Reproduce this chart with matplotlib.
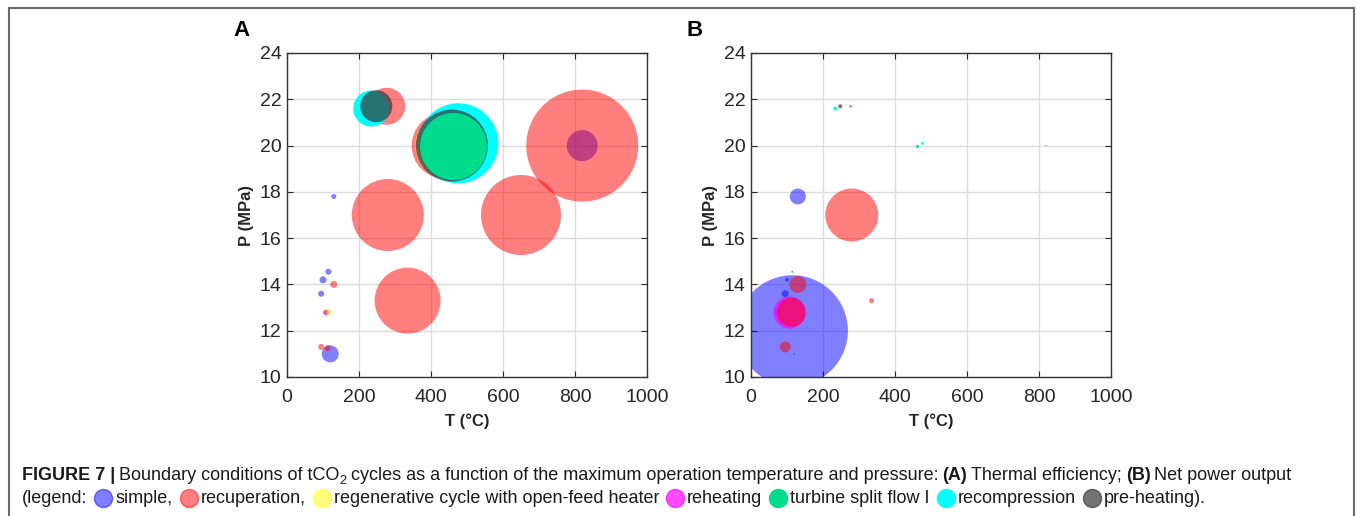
import matplotlib
matplotlib.use("Agg")
import matplotlib.pyplot as plt
from matplotlib.lines import Line2D

W, H = 1357, 516
DPI = 100

# tCO2 cycles: max temperature (°C), max pressure (MPa),
# bubble diameter (px) for (A) thermal efficiency and (B) net power output
simple_T = [130, 115, 100, 95, 120, 820, 115]
simple_P = [17.8, 14.55, 14.2, 13.6, 11.0, 20.0, 12.0]
simple_A = [5, 6, 7, 6, 17, 31, 0]
simple_B = [16, 2, 4, 7, 1.5, 1, 111]

recup_T = [820, 650, 280, 335, 438, 277, 130, 95, 113, 112]
recup_P = [20.0, 17.0, 17.0, 13.3, 20.0, 21.7, 14.0, 11.3, 11.25, 12.8]
recup_A = [112, 80, 72, 66, 66, 37, 7, 6, 6, 5]
recup_B = [1, 0.5, 53, 5, 0, 3, 17, 11, 0, 29]

regen_T = [114, 448]
regen_P = [12.8, 20.0]
regen_A = [5, 66]
regen_B = [0, 0]

reheat_T = [106]
reheat_P = [12.8]
reheat_A = [5]
reheat_B = [32]

split_T = [460]
split_P = [20.0]
split_A = [67]
split_B = [3]

recomp_T = [476, 234]
recomp_P = [20.1, 21.6]
recomp_A = [80, 36]
recomp_B = [3, 4]

preheat_T = [458, 248]
preheat_P = [20.0, 21.7]
preheat_A = [72, 32]
preheat_B = [0, 4]

x_ticks = [0, 200, 400, 600, 800, 1000]
y_ticks = [10, 12, 14, 16, 18, 20, 22, 24]

# name, T, P, size A, size B, colour, alpha, zorder
series = [
    ("simple", simple_T, simple_P, simple_A, simple_B, (0, 0, 1), 0.5, 2),
    ("reheating", reheat_T, reheat_P, reheat_A, reheat_B, (1, 0, 1), 0.7, 3),
    ("recuperation", recup_T, recup_P, recup_A, recup_B, (1, 0, 0), 0.5, 4),
    ("regenerative", regen_T, regen_P, regen_A, regen_B, (1, 1, 0), 0.5, 5),
    ("recompression", recomp_T, recomp_P, recomp_A, recomp_B, (0, 1, 1), 1.0, 6),
    ("pre-heating", preheat_T, preheat_P, preheat_A, preheat_B, (0.22, 0.22, 0.22), 0.7, 7),
    ("turbine split", split_T, split_P, split_A, split_B, (0, 0.86, 0.55), 1.0, 8),
]
style = {s[0]: (s[5], s[6]) for s in series}

plt.rcParams["font.family"] = ["Liberation Sans", "DejaVu Sans"]

fig = plt.figure(figsize=(W / DPI, H / DPI), dpi=DPI)


def px_box(x0, y0, x1, y1):
    return [x0 / W, 1 - y1 / H, (x1 - x0) / W, (y1 - y0) / H]


def setup_axes(ax, letter, letter_dx):
    ax.set_xlim(0, 1000)
    ax.set_ylim(10, 24)
    ax.set_xticks(x_ticks)
    ax.set_yticks(y_ticks)
    ax.grid(True, color="#dcdcdc", linewidth=1)
    ax.set_axisbelow(True)
    ax.tick_params(direction="in", top=True, right=True, length=4,
                   labelsize=14, colors="#262626", width=0.8)
    ax.tick_params(axis="x", pad=9)
    ax.tick_params(axis="y", pad=4)
    for sp in ax.spines.values():
        sp.set_color("#333333")
        sp.set_linewidth(1)
        sp.set_zorder(10)
    ax.set_xlabel("T (°C)", fontsize=12, fontweight="bold", color="#262626", labelpad=5)
    ax.set_ylabel("P (MPa)", fontsize=12, fontweight="bold", color="#262626", labelpad=4)
    ax.text(letter_dx / 360, 1.07, letter, transform=ax.transAxes, fontsize=16,
            fontweight="bold", va="center", ha="left")


ax_a = fig.add_axes(px_box(287, 53, 647, 377))
ax_b = fig.add_axes(px_box(751, 53, 1111, 377))

for ax, idx, letter, dx in [(ax_a, 3, "A", -54), (ax_b, 4, "B", -64)]:
    for s in series:
        sizes = [(d * 72 / DPI) ** 2 for d in s[idx]]
        ax.scatter(s[1], s[2], s=sizes, color=s[5], alpha=s[6],
                   linewidths=0, zorder=s[7])
    setup_axes(ax, letter, dx)

# figure frame
frame_kw = dict(transform=None, color="#6a6a6a", linewidth=1.5)
fig.add_artist(Line2D([9, 9], [H - 8, -5], **frame_kw))
fig.add_artist(Line2D([9, 1354], [H - 8, H - 8], **frame_kw))
fig.add_artist(Line2D([1354, 1354], [H - 8, -5], **frame_kw))

# caption with inline legend dots
renderer = fig.canvas.get_renderer()
cap_size = 13
space = 4


def draw_runs(x, y, runs):
    for r in runs:
        kind = r[0]
        if kind == "dot":
            col, a = style[r[1]]
            x += 7
            fig.add_artist(Line2D([x + 9], [H - y + 5], transform=None, marker="o",
                                  markersize=13, color=col, alpha=a, linewidth=0))
            x += 21
            continue
        if kind == "gap":
            x += space
            continue
        txt, weight = r[1], r[2]
        size = cap_size * 0.7 if kind == "sub" else cap_size
        dy = -4 if kind == "sub" else 0
        t = fig.text(x / W, (H - y + dy) / H, txt, fontsize=size,
                     fontweight=weight, color="#1a1a1a", va="baseline", ha="left")
        x += t.get_window_extent(renderer).width


line1 = [("t", "FIGURE 7 |", "bold"), ("gap",),
         ("t", "Boundary conditions of tCO", "normal"), ("sub", "2", "normal"),
         ("gap",), ("t", "cycles as a function of the maximum operation temperature and pressure:", "normal"),
         ("gap",), ("t", "(A)", "bold"), ("gap",), ("t", "Thermal efficiency;", "normal"),
         ("gap",), ("t", "(B)", "bold"), ("gap",), ("t", "Net power output", "normal")]
line2 = [("t", "(legend:", "normal"), ("dot", "simple"), ("t", "simple,", "normal"),
         ("dot", "recuperation"), ("t", "recuperation,", "normal"),
         ("dot", "regenerative"), ("t", "regenerative cycle with open-feed heater", "normal"),
         ("dot", "reheating"), ("t", "reheating", "normal"),
         ("dot", "turbine split"), ("t", "turbine split flow I", "normal"),
         ("dot", "recompression"), ("t", "recompression", "normal"),
         ("dot", "pre-heating"), ("t", "pre-heating).", "normal")]

draw_runs(22, 480, line1)
draw_runs(22, 503, line2)

fig.savefig("out.png", dpi=DPI)
